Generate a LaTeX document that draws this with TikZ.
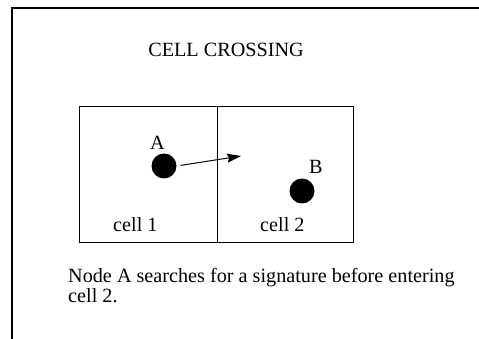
\documentclass[tikz,border=0pt]{standalone}
\usepackage{fontspec}
\setmainfont{Liberation Serif}
\usetikzlibrary{arrows.meta}
\begin{document}
\begin{tikzpicture}[x=1pt,y=-1pt,
  frame/.style={line width=1.1pt},
  cellbox/.style={draw,line width=1pt,rectangle,inner sep=0pt,
    minimum height=135pt},
  dot/.style={circle,fill=black,inner sep=0pt,minimum size=25pt},
  txt/.style={inner sep=0pt,font=\fontsize{20.2}{24}\selectfont},
  arr/.style={line width=1pt,-{Stealth[length=14pt,width=9pt,inset=2pt]}}]
  \useasboundingbox (0,0) rectangle (479,339);
  % open frame: left and top edges only
  \coordinate (fbl) at (12,339);
  \coordinate (ftl) at (12,8);
  \coordinate (ftr) at (479,8);
  \draw[frame] (fbl) -- (ftl) -- (ftr);
  % title
  \node[txt,anchor=base] (title) at (226,57) {CELL CROSSING};
  % the two cells
  \node[cellbox,minimum width=138pt] (c1) at (148,174.5) {};
  \node[cellbox,minimum width=136pt] (c2) at (285,174.5) {};
  \node[txt,anchor=base west] (l1) at (113,232) {cell 1};
  \node[txt,anchor=base west] (l2) at (260,232) {cell 2};
  % mobile nodes
  \node[dot] (a) at (164,166) {};
  \node[dot] (b) at (302,191) {};
  \node[txt,anchor=base west] (la) at (150,150) {A};
  \node[txt,anchor=base west] (lb) at (309,174) {B};
  % direction of movement
  \coordinate (tip) at (241,156);
  \draw[arr,shorten <=4pt] (a.east) -- (tip);
  % caption
  \node[txt,anchor=base west] (cap1) at (68,282) {Node A searches for a signature before entering};
  \node[txt,anchor=base west] (cap2) at (68,302) {cell 2.};
\end{tikzpicture}
\end{document}
